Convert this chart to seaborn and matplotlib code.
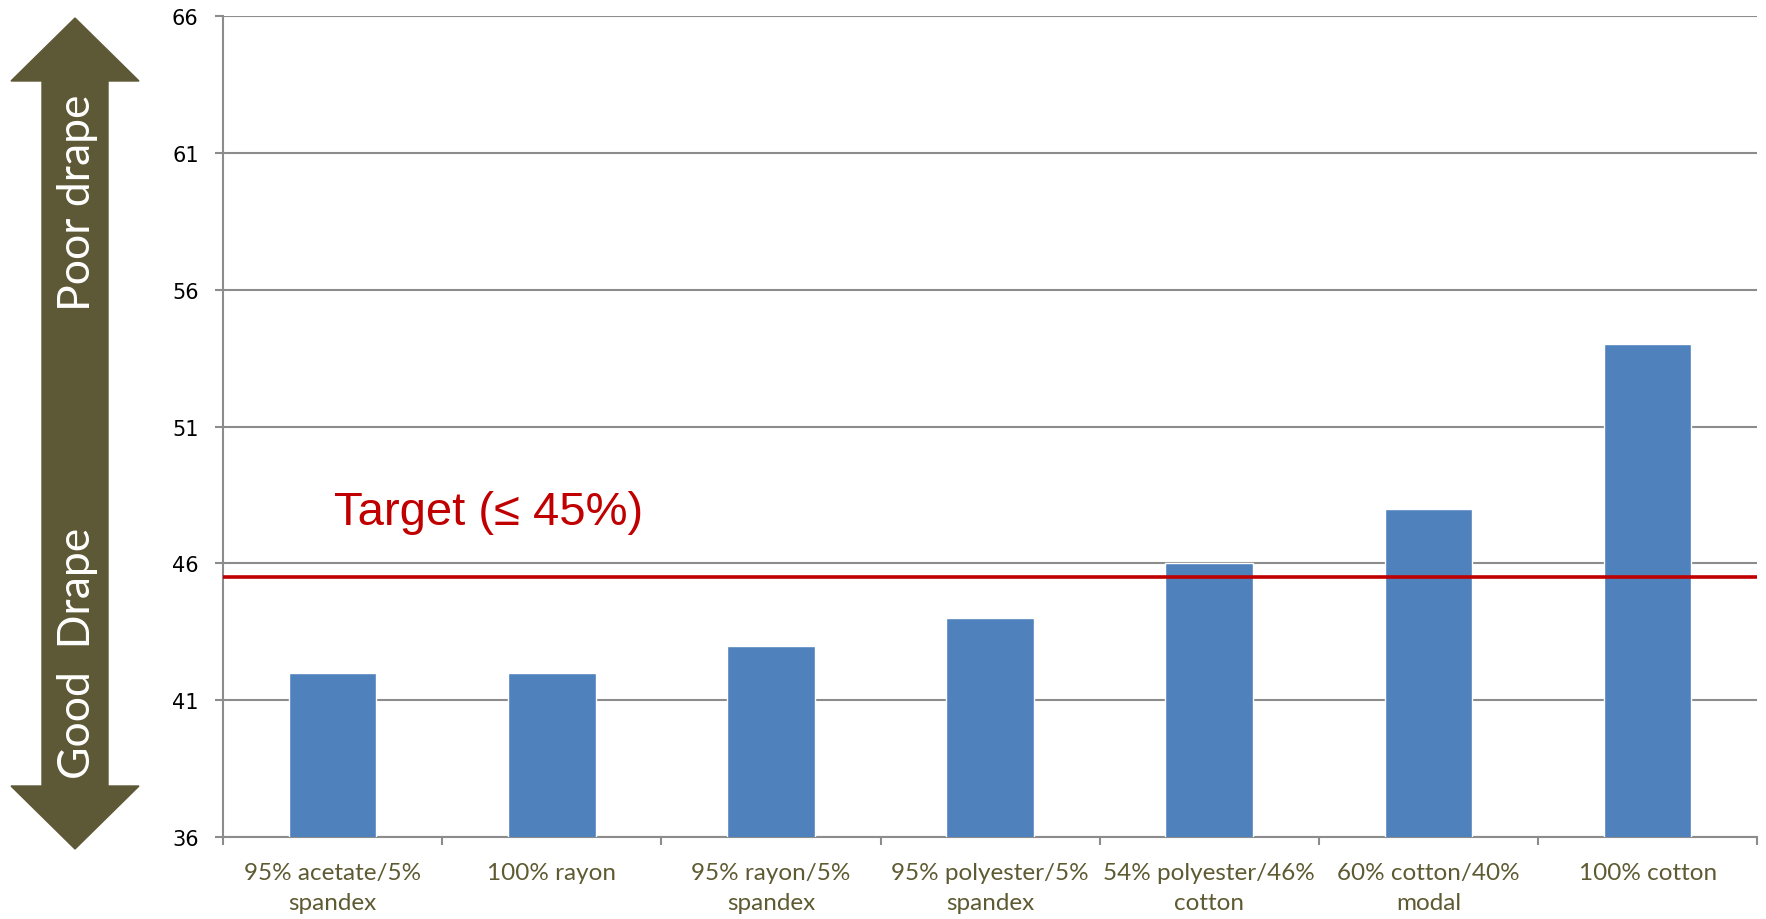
import pandas as pd
import matplotlib.pyplot as plt
import seaborn as sns
from matplotlib.patches import Polygon

# data
fabrics = ['95% acetate/5%\nspandex', '100% rayon', '95% rayon/5%\nspandex',
           '95% polyester/5%\nspandex', '54% polyester/46%\ncotton',
           '60% cotton/40%\nmodal', '100% cotton']
drape = [42, 42, 43, 44, 46, 48, 54]
target = 45.5
yticks = [36, 41, 46, 51, 56, 61, 66]

df = pd.DataFrame({'fabric': fabrics, 'drape': drape})

sns.set_style('white')
narrow = ['Lato', 'DejaVu Sans']

fig = plt.figure(figsize=(17.66, 9.2), dpi=100)

# arrow panel in pixel coords
bg = fig.add_axes([0, 0, 1, 1])
bg.set_xlim(0, 1766)
bg.set_ylim(920, 0)
bg.axis('off')
cx, hw, sw, hl = 75, 64, 33, 63
top, bot = 19, 850
pts = [(cx, top), (cx + hw, top + hl), (cx + sw, top + hl), (cx + sw, bot - hl),
       (cx + hw, bot - hl), (cx, bot), (cx - hw, bot - hl), (cx - sw, bot - hl),
       (cx - sw, top + hl), (cx - hw, top + hl)]
bg.add_patch(Polygon(pts, closed=True, color='#5D5835'))
bg.text(cx + 2, 203, 'Poor drape', rotation=90, color='white', fontsize=32,
        ha='center', va='center', family=narrow)
bg.text(cx + 2, 653, 'Good  Drape', rotation=90, color='white', fontsize=32,
        ha='center', va='center', family=narrow)

ax = fig.add_axes([0.1263, 0.089, 0.995 - 0.1263, 0.9815 - 0.089])
sns.barplot(x='fabric', y='drape', data=df, color='#4F81BD', width=0.4,
            saturation=1, ax=ax, zorder=3)
ax.axhline(target, color='#C00000', lw=2.6, zorder=4)
ax.text(0.005, 47.45, 'Target (\u2264 45%)', color='#C00000', fontsize=34,
        family=['Liberation Sans', 'DejaVu Sans'], va='baseline')

ax.set_ylim(36, 66)
ax.set_xlim(-0.5, len(fabrics) - 0.5)
ax.set_yticks(yticks)
ax.set_yticklabels([str(v) for v in yticks], fontsize=15, color='black')
ax.yaxis.grid(True, color='#8C8C8C', lw=1.5, zorder=0)
ax.set_xlabel('')
ax.set_ylabel('')
ax.set_xticks(range(len(fabrics)))
ax.set_xticklabels(fabrics, family=narrow, fontsize=17.5, color='#5E5A32', linespacing=1.5)
ax.tick_params(axis='x', which='major', length=0, pad=18)
ax.set_xticks([i - 0.5 for i in range(len(fabrics) + 1)], minor=True)
ax.tick_params(axis='x', which='minor', length=5.5, color='#8C8C8C', width=1.5, direction='out', bottom=True)
ax.tick_params(axis='y', length=5.5, color='#8C8C8C', width=1.5, direction='out', left=True, pad=12)
for s in ['top', 'right']:
    ax.spines[s].set_visible(False)
for s in ['left', 'bottom']:
    ax.spines[s].set_color('#8C8C8C')
    ax.spines[s].set_linewidth(1.5)

plt.savefig('out.png', dpi=100)
